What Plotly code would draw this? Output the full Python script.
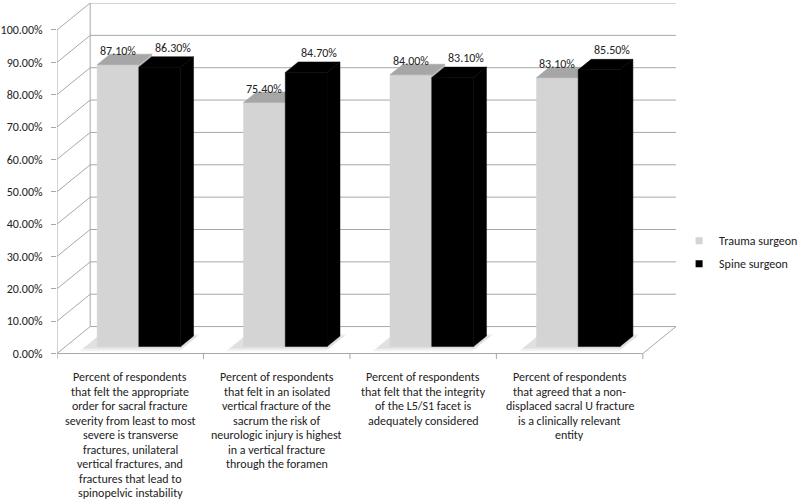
import plotly.graph_objects as go

# ---------------- data ----------------
categories = [
    "Percent of respondents<br>that felt the appropriate<br>order for sacral fracture<br>severity from least to most<br>severe is transverse<br>fractures, unilateral<br>vertical fractures, and<br>fractures that lead to<br>spinopelvic instability",
    "Percent of respondents<br>that felt in an isolated<br>vertical fracture of the<br>sacrum the risk of<br>neurologic injury is highest<br>in a vertical fracture<br>through the foramen",
    "Percent of respondents<br>that felt that the integrity<br>of the L5/S1 facet is<br>adequately considered",
    "Percent of respondents<br>that agreed that a non-<br>displaced sacral U fracture<br>is a clinically relevant<br>entity",
]
trauma = [87.1, 75.4, 84.0, 83.1]
spine = [86.3, 84.7, 83.1, 85.5]
series_names = ["Trauma surgeon", "Spine surgeon"]
tick_vals = [0, 10, 20, 30, 40, 50, 60, 70, 80, 90, 100]
tick_text = ["0.00%", "10.00%", "20.00%", "30.00%", "40.00%", "50.00%",
             "60.00%", "70.00%", "80.00%", "90.00%", "100.00%"]

# ---------------- 3D projection settings ----------------
DX = 0.2264   # depth offset in category units
DY = 8.33     # depth offset in percent units
Z0, Z1 = 0.26, 0.65   # bar depth extent (fraction of wall depth)
W = 0.285     # bar width (category units)
N = len(categories)

FONT = "Carlito, Calibri, Lato, sans-serif"
GRID = "#a8a8a8"
TXT = "#222222"

fig = go.Figure()

def line_trace(xs, ys, color=GRID, width=1):
    fig.add_trace(go.Scatter(x=xs, y=ys, mode="lines", line=dict(color=color, width=width),
                             hoverinfo="skip", showlegend=False))

# walls: back wall grid, left wall diagonals
bx, by, lx, ly = [], [], [], []
for v in tick_vals:
    bx += [DX, N + DX, None]
    by += [v + DY, v + DY, None]
    lx += [0, DX, None]
    ly += [v, v + DY, None]
line_trace(bx, by)
line_trace(lx, ly)
# back-left vertical edge, front axis line, floor edges
line_trace([DX, DX], [DY, 100 + DY])
line_trace([0, 0], [0, 100])
line_trace([0, N, N + DX], [0, 0, DY])
# category tick marks
tx, ty = [], []
for i in range(N + 1):
    tx += [i, i, None]
    ty += [0, -1.7, None]
line_trace(tx, ty)

# floor shadows under bar pairs
for za, zb, alpha in [(0.08, 0.72, 0.05), (0.18, 0.66, 0.07)]:
    sx, sy = [], []
    for i in range(N):
        L = i + 0.5 - W - 0.08
        R = i + 0.5 + W + 0.03
        sx += [L + za * DX, R + za * DX, R + zb * DX, L + zb * DX, L + za * DX, None]
        sy += [za * DY, za * DY, zb * DY, zb * DY, za * DY, None]
    fig.add_trace(go.Scatter(x=sx, y=sy, mode="lines", fill="toself",
                             fillcolor=f"rgba(0,0,0,{alpha})",
                             line=dict(width=0), hoverinfo="skip", showlegend=False))


def faces(lefts, vals):
    fx, fy, tx_, ty_, sx_, sy_ = [], [], [], [], [], []
    for L, v in zip(lefts, vals):
        R = L + W
        fx += [L + Z0 * DX, R + Z0 * DX, R + Z0 * DX, L + Z0 * DX, L + Z0 * DX, None]
        fy += [Z0 * DY, Z0 * DY, v + Z0 * DY, v + Z0 * DY, Z0 * DY, None]
        tx_ += [L + Z0 * DX, R + Z0 * DX, R + Z1 * DX, L + Z1 * DX, L + Z0 * DX, None]
        ty_ += [v + Z0 * DY, v + Z0 * DY, v + Z1 * DY, v + Z1 * DY, v + Z0 * DY, None]
        sx_ += [R + Z0 * DX, R + Z1 * DX, R + Z1 * DX, R + Z0 * DX, R + Z0 * DX, None]
        sy_ += [Z0 * DY, Z1 * DY, v + Z1 * DY, v + Z0 * DY, Z0 * DY, None]
    return (fx, fy), (tx_, ty_), (sx_, sy_)


styles = [
    dict(front="#d4d4d4", top="#a6a6a6", side="#b8b8b8"),
    dict(front="#000000", top="#000000", side="#000000"),
]
lefts_list = [[i + 0.5 - W for i in range(N)], [i + 0.5 for i in range(N)]]
for vals, lefts, st in zip([trauma, spine], lefts_list, styles):
    (fx, fy), (tx_, ty_), (sx_, sy_) = faces(lefts, vals)
    for (xx, yy, col) in [(fx, fy, st["front"]), (sx_, sy_, st["side"]), (tx_, ty_, st["top"])]:
        fig.add_trace(go.Scatter(x=xx, y=yy, mode="lines", fill="toself", fillcolor=col,
                                 line=dict(width=0.5, color=col), hoverinfo="skip",
                                 showlegend=False))

# legend entries
for name, st in zip(series_names, styles):
    fig.add_trace(go.Scatter(x=[None], y=[None], mode="markers", name=name, legendgroup=name,
                             marker=dict(symbol="square", size=7, color=st["front"])))

# data labels
annotations = []
for i in range(N):
    for k, (vals, lefts) in enumerate(zip([trauma, spine], lefts_list)):
        v = vals[i]
        z = Z0 if k == 0 else Z1
        annotations.append(dict(
            x=lefts[i] + W / 2 + z * DX, y=v + Z1 * DY, xref="x", yref="y",
            text=f"{v:.2f}%", showarrow=False, yanchor="middle",
            yshift=3 if k == 0 else 9,
            font=dict(family=FONT, size=12, color=TXT)))
# category labels (one annotation per line for tight line spacing)
LINE_STEP = 14.5
for i, c in enumerate(categories):
    for j, line in enumerate(c.split("<br>")):
        annotations.append(dict(
            x=i + 0.5, y=-2, xref="x", yref="y", text=line, showarrow=False,
            yanchor="top", xanchor="center", align="center",
            yshift=-8 - j * LINE_STEP,
            font=dict(family=FONT, size=12, color=TXT)))

fig.update_layout(
    width=800, height=503,
    margin=dict(l=57, r=124, t=3, b=142.5, autoexpand=False),
    paper_bgcolor="white", plot_bgcolor="white",
    font=dict(family=FONT, size=12, color=TXT),
    xaxis=dict(range=[0, N + DX], showgrid=False, zeroline=False, showline=False,
               showticklabels=False, ticks=""),
    yaxis=dict(range=[-2, 100 + DY], showgrid=False, zeroline=False, showline=False,
               tickvals=tick_vals, ticktext=tick_text, ticks="outside", ticklen=5,
               tickcolor=GRID, ticklabelstandoff=6,
               tickfont=dict(family=FONT, size=12, color=TXT)),
    legend=dict(x=1.005, y=0.302, xanchor="left", yanchor="middle",
                font=dict(family=FONT, size=12, color=TXT),
                itemwidth=30, tracegroupgap=4, bgcolor="rgba(0,0,0,0)"),
    annotations=annotations,
    hovermode=False,
)

fig.write_html("out.html", config={"displayModeBar": False},
               post_script="document.body.style.margin='0px';")
